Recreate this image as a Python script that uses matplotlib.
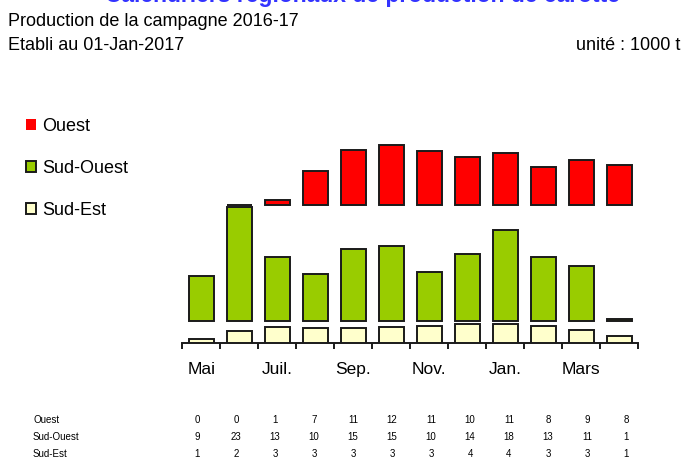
import math
import matplotlib
matplotlib.use("Agg")
import matplotlib.pyplot as plt

plt.rcParams["font.family"] = ["Liberation Sans", "DejaVu Sans"]

months = ["Mai", "Juin", "Juil.", "Août", "Sep.", "Oct.", "Nov.", "Déc.", "Jan.", "Fév.", "Mars", "Avr."]
regions = ["Ouest", "Sud-Ouest", "Sud-Est"]

ouest = [0, 0.05, 1.1, 6.9, 11.1, 12.1, 10.9, 9.6, 10.5, 7.7, 9.0, 8.1]
sud_ouest = [9.0, 22.8, 12.9, 9.5, 14.5, 15.1, 9.9, 13.5, 18.2, 12.9, 11.1, 0.5]
sud_est = [0.7, 2.4, 3.1, 2.9, 2.9, 3.2, 3.4, 3.8, 3.8, 3.4, 2.6, 1.3]

colors = {"Ouest": "#ff0000", "Sud-Ouest": "#99cc00", "Sud-Est": "#ffffcc"}
gap = 0.45

fig = plt.figure(figsize=(6.84, 4.75), dpi=100)
W, H = 684, 475

ax = fig.add_axes([182.3 / W, 1 - 342.7 / H, 456 / W, 200 / H])

x = list(range(len(months)))
base_so = max(sud_est) + gap
base_o = base_so + max(sud_ouest) + gap

handles = {}
for name, vals, base in [("Sud-Est", sud_est, 0), ("Sud-Ouest", sud_ouest, base_so), ("Ouest", ouest, base_o)]:
    lws = [1.4 if v > 0 else 0 for v in vals]
    bars = ax.bar(x, vals, width=0.66, bottom=base, color=colors[name],
                  edgecolor="#1a1a1a", linewidth=lws, zorder=3)
    handles[name] = bars

ax.set_xlim(-0.5, len(months) - 0.5)
ax.set_ylim(0, 40)
for s in ["top", "right", "left"]:
    ax.spines[s].set_visible(False)
ax.spines["bottom"].set_linewidth(1.4)
ax.spines["bottom"].set_color("#1a1a1a")
ax.set_yticks([])

ax.set_xticks([i - 0.5 for i in range(len(months) + 1)])
ax.set_xticklabels([])
ax.tick_params(axis="x", which="major", length=4, width=1.4, color="#1a1a1a", direction="out")
ax.set_xticks(x[::2], minor=True)
ax.set_xticklabels(months[::2], minor=True, fontsize=12.5)
ax.tick_params(axis="x", which="minor", length=0, pad=14)

# titre (coupé en haut comme dans l'original)
fig.text(362 / W, 1 - 2 / H, "Calendriers régionaux de production de carotte", ha="center",
         va="baseline", fontsize=16.5, fontweight="bold", color="#3333ff")
fig.text(8 / W, 1 - 22 / H, "Production de la campagne 2016-17", ha="left", va="center", fontsize=13)
fig.text(8 / W, 1 - 46 / H, "Etabli au 01-Jan-2017", ha="left", va="center", fontsize=13)
fig.text(680 / W, 1 - 46 / H, "unité : 1000 t", ha="right", va="center", fontsize=13)

# légende
fig.legend([handles[r] for r in regions], regions, loc="upper left",
           bbox_to_anchor=(19 / W, 1 - 111 / H), borderaxespad=0, frameon=False, fontsize=13,
           handlelength=0.55, handleheight=0.55, handletextpad=0.33, labelspacing=1.37)

# tableau des valeurs
tab = fig.add_axes([197 / W, 0, (626 - 197) / W, 1])
tab.set_xlim(0, len(months) - 1)
tab.set_ylim(H, 0)
tab.axis("off")
narrow = ["Liberation Sans Narrow", "Liberation Sans", "DejaVu Sans"]
for row, (name, vals) in enumerate([("Ouest", ouest), ("Sud-Ouest", sud_ouest), ("Sud-Est", sud_est)]):
    y = 420 + row * 17
    fig.text(33 / W, 1 - y / H, name, ha="left", va="center", fontsize=7, family=narrow)
    for i, v in enumerate(vals):
        tab.text(i, y, str(math.floor(v + 0.5)), ha="center", va="center", fontsize=7, family=narrow)

fig.savefig("out.png", dpi=100, facecolor="white")
